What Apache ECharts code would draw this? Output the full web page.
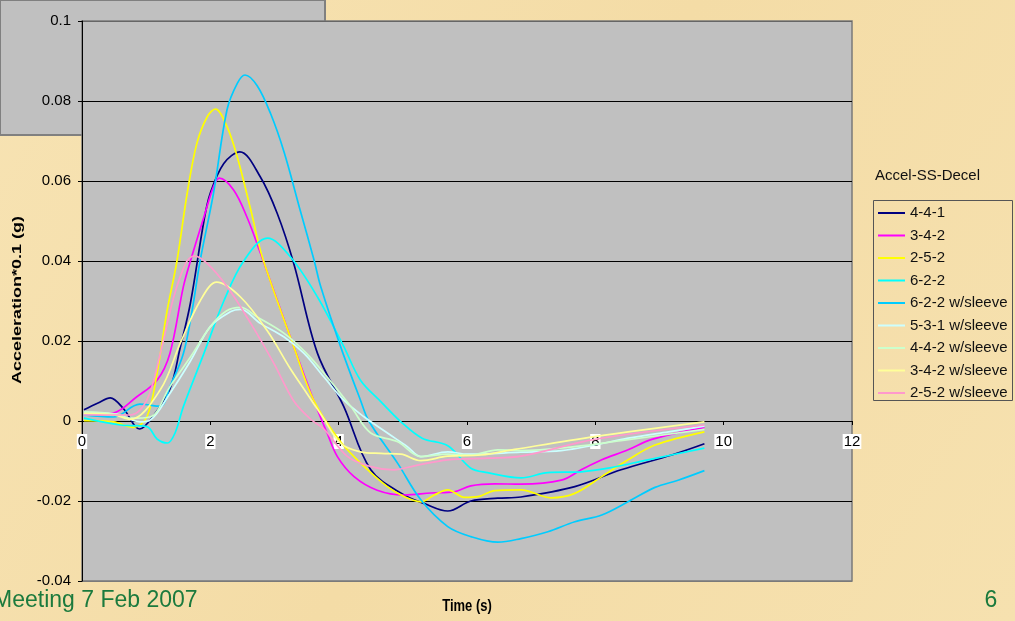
<!DOCTYPE html>
<html>
<head>
<meta charset="utf-8">
<script src="https://cdn.jsdelivr.net/npm/echarts@6/dist/echarts.min.js"></script>
<style>
html,body{margin:0;padding:0;width:1015px;height:621px;overflow:hidden;background:#F5DFAA;}
#c{width:1015px;height:621px;}
</style>
</head>
<body>
<div id="c"></div>
<script>
// ---- data (time s, acceleration*0.1 g) ----
const seriesNames = ['4-4-1','3-4-2','2-5-2','6-2-2','6-2-2 w/sleeve','5-3-1 w/sleeve','4-4-2 w/sleeve','3-4-2 w/sleeve','2-5-2 w/sleeve'];
const yTickLabels = ['-0.04','-0.02','0','0.02','0.04','0.06','0.08','0.1'];
const xTickLabels = ['0','2','4','6','8','10','12'];

const s441 = [[0.03,0.0028],[0.25,0.0045],[0.44,0.0058],[0.65,0.003],[0.9,-0.002],[1.1,0.001],[1.37,0.008],[1.53,0.0183],[1.69,0.0295],[1.9,0.050],[2.0,0.057],[2.21,0.0644],[2.46,0.0673],[2.78,0.061],[3.04,0.052],[3.3,0.0394],[3.67,0.0169],[4.08,0.0036],[4.5,-0.0122],[5.02,-0.0185],[5.33,-0.0206],[5.7,-0.0225],[6.06,-0.020],[6.48,-0.0193],[6.84,-0.019],[7.68,-0.0164],[8.4,-0.0122],[9.19,-0.0085],[9.7,-0.0057]];
const s342 = [[0.03,0.0015],[0.49,0.002],[0.85,0.006],[1.17,0.0102],[1.37,0.0169],[1.58,0.0336],[1.69,0.040],[1.9,0.051],[2.05,0.0586],[2.14,0.0607],[2.36,0.0578],[2.57,0.051],[2.78,0.042],[3.3,0.0186],[3.61,0.0052],[3.82,-0.003],[3.98,-0.0089],[4.24,-0.0139],[4.6,-0.0173],[5.02,-0.0185],[5.44,-0.018],[5.8,-0.0177],[6.06,-0.0162],[6.43,-0.0157],[6.84,-0.0158],[7.47,-0.0148],[7.78,-0.0122],[8.1,-0.0097],[8.51,-0.0072],[8.88,-0.0046],[9.7,-0.0016]];
const s252 = [[0.03,0.0001],[0.49,-0.0002],[0.8,-0.0016],[1.01,0.001],[1.17,0.012],[1.32,0.027],[1.48,0.040],[1.64,0.057],[1.79,0.0694],[1.95,0.076],[2.08,0.078],[2.26,0.0736],[2.42,0.066],[2.63,0.0528],[2.81,0.041],[3.3,0.0186],[3.61,0.0052],[4.03,-0.0052],[4.4,-0.0114],[4.76,-0.0164],[5.02,-0.0189],[5.28,-0.0202],[5.49,-0.0185],[5.7,-0.0172],[5.96,-0.0191],[6.17,-0.0189],[6.43,-0.0174],[6.84,-0.0172],[7.31,-0.0192],[7.68,-0.0181],[8.1,-0.0139],[8.51,-0.0097],[8.93,-0.006],[9.7,-0.0027]];
const s622 = [[0.03,0.0007],[0.6,-0.001],[1.01,-0.0014],[1.17,-0.0045],[1.33,-0.0055],[1.45,-0.003],[1.58,0.0036],[1.9,0.0169],[2.21,0.030],[2.52,0.040],[2.89,0.0457],[3.25,0.041],[3.67,0.031],[4.08,0.0186],[4.34,0.0102],[4.66,0.0048],[4.97,-0.0002],[5.3,-0.0043],[5.7,-0.0062],[6.06,-0.0118],[6.32,-0.0129],[6.84,-0.0142],[7.26,-0.0129],[7.78,-0.0127],[8.2,-0.0118],[8.82,-0.0097],[9.7,-0.0068]];
const s622s = [[0.03,0.0015],[0.49,0.001],[0.9,0.0042],[1.22,0.0037],[1.37,0.0086],[1.58,0.0169],[1.72,0.028],[1.84,0.040],[2.05,0.057],[2.26,0.0778],[2.42,0.0844],[2.54,0.0865],[2.73,0.0838],[2.94,0.0768],[3.15,0.0672],[3.4,0.0527],[3.62,0.040],[3.72,0.0336],[4.03,0.0186],[4.34,0.0052],[4.47,0.0],[4.92,-0.0106],[5.28,-0.0197],[5.7,-0.0264],[6.06,-0.0289],[6.48,-0.0303],[6.84,-0.0294],[7.26,-0.0277],[7.68,-0.0252],[8.1,-0.0235],[8.51,-0.0202],[8.93,-0.0166],[9.29,-0.0148],[9.7,-0.0124]];
const s531s = [[0.03,0.0019],[0.5,0.0018],[0.9,-0.0002],[1.06,0.0002],[1.37,0.0069],[1.69,0.015],[2.0,0.0236],[2.31,0.0273],[2.47,0.0279],[2.78,0.0244],[3.15,0.021],[3.46,0.0169],[3.77,0.011],[4.08,0.0052],[4.4,0.001],[4.76,-0.003],[5.07,-0.0064],[5.28,-0.0089],[5.7,-0.0077],[6.01,-0.0083],[6.84,-0.0078],[7.47,-0.0074],[7.99,-0.006],[8.51,-0.0043],[9.14,-0.0027],[9.7,-0.0013]];
const s442s = [[0.03,0.0023],[0.5,0.0018],[0.75,0.0007],[1.06,0.001],[1.37,0.0086],[1.69,0.016],[2.0,0.0236],[2.25,0.0275],[2.47,0.0284],[2.73,0.026],[3.15,0.0219],[3.5,0.0169],[3.82,0.011],[4.19,0.0036],[4.5,-0.003],[4.92,-0.0052],[5.28,-0.0089],[5.7,-0.0083],[6.06,-0.0085],[6.48,-0.0072],[6.84,-0.0074],[7.68,-0.0064],[8.4,-0.0049],[9.7,-0.0021]];
const s342s = [[0.03,0.0019],[0.5,0.0015],[0.75,0.0004],[1.22,0.0078],[1.53,0.0194],[1.84,0.030],[2.1,0.0347],[2.47,0.031],[2.89,0.0225],[3.25,0.013],[3.5,0.007],[3.75,0.001],[4.03,-0.0056],[4.34,-0.0077],[4.66,-0.0081],[4.97,-0.0083],[5.28,-0.0099],[5.7,-0.0088],[6.22,-0.0085],[6.74,-0.0071],[7.99,-0.0039],[9.7,-0.0002]];
const s252s = [[0.03,0.0015],[0.75,0.0015],[1.01,0.0052],[1.22,0.0169],[1.43,0.031],[1.62,0.0395],[1.75,0.0413],[1.95,0.0394],[2.26,0.0336],[2.63,0.0244],[2.99,0.0144],[3.3,0.005],[3.56,0.0005],[3.77,-0.002],[4.14,-0.0089],[4.5,-0.0114],[4.86,-0.0122],[5.18,-0.0112],[5.7,-0.0097],[6.32,-0.0093],[6.84,-0.0088],[7.99,-0.0046],[9.7,-0.001]];

const seriesData = [s441, s342, s252, s622, s622s, s531s, s442s, s342s, s252s];
const seriesColors = ['#000080','#FF00FF','#FFFF00','#00FFFF','#00CCFF','#CCFFFF','#CCFFCC','#FFFF99','#FF99CC'];

const FONT = "Arial, 'Liberation Sans', sans-serif";
const chart = echarts.init(document.getElementById('c'), null, {renderer:'canvas'});

const option = {
  animation: false,
  backgroundColor: {
    type:'linear', x:0, y:0, x2:1, y2:1,
    colorStops:[{offset:0,color:'#F7E3B3'},{offset:0.5,color:'#F4DCA6'},{offset:1,color:'#F6E1AF'}]
  },
  textStyle: {fontFamily: FONT},
  grid: {
    left: 82, top: 21, width: 770, height: 560,
    show: true, backgroundColor: '#C0C0C0',
    borderColor: '#7a7a7a', borderWidth: 1.5
  },
  xAxis: {
    type: 'value', min: 0, max: 12, interval: 2,
    position: 'bottom', offset: -160,
    axisLine: {show: true, onZero: false, lineStyle: {color: '#000', width: 1}},
    axisTick: {show: true, inside: false, length: 4, lineStyle: {color: '#000'}},
    axisLabel: {
      fontSize: 15, color: '#000', fontFamily: FONT, margin: 13,
      backgroundColor: '#fff', padding: [0, 1, 0, 1],
      formatter: function (v) { const i = Math.round(v / 2); return xTickLabels[i] !== undefined ? xTickLabels[i] : ''; }
    },
    splitLine: {show: false}
  },
  yAxis: {
    type: 'value', min: -0.04, max: 0.1, interval: 0.02,
    axisLine: {show: true, onZero: false, lineStyle: {color: '#000', width: 1}},
    axisTick: {show: true, inside: false, length: 4, lineStyle: {color: '#000'}},
    axisLabel: {
      fontSize: 15, color: '#000', fontFamily: FONT, margin: 11,
      formatter: function (v) { const i = Math.round((v + 0.04) / 0.02); return yTickLabels[i] !== undefined ? yTickLabels[i] : ''; }
    },
    splitLine: {show: true, lineStyle: {color: ['#7a7a7a','#000','#000','#000','#000','#000','#000','#666'], width: 1}}
  },
  legend: {
    orient: 'vertical', left: 878, top: 205.5, padding: 0,
    icon: 'rect', itemWidth: 27, itemHeight: 2, itemGap: 7.5,
    textStyle: {fontSize: 15, color: '#111', fontFamily: FONT},
    data: seriesNames
  },
  graphic: [
    {type:'rect', z:-10, shape:{x:0,y:0,width:325,height:135}, style:{fill:'#C0C0C0', stroke:'#808080', lineWidth:2}},
    {type:'rect', shape:{x:873.5,y:200.5,width:139,height:200}, style:{fill:'rgba(0,0,0,0)', stroke:'#555', lineWidth:1}},
    {type:'text', x:875, y:176, style:{text:'Accel-SS-Decel', fill:'#111', font:'15px ' + FONT, textAlign:'left', textVerticalAlign:'middle'}},
    {type:'text', x:467, y:607, scaleY: 1.2, style:{text:'Time (s)', fill:'#000', font:'bold 13px ' + FONT, textAlign:'center', textVerticalAlign:'middle'}},
    {type:'text', x:18, y:300, rotation: Math.PI/2, scaleX: 1.5, style:{text:'Acceleration*0.1 (g)', fill:'#000', font:'bold 12px ' + FONT, textAlign:'center', textVerticalAlign:'middle'}},
    {type:'text', x:-7, y:601, style:{text:'Meeting 7 Feb 2007', fill:'#1b7a3d', font:'23px ' + FONT, textAlign:'left', textVerticalAlign:'middle'}},
    {type:'text', x:991, y:601, style:{text:'6', fill:'#1b7a3d', font:'23px ' + FONT, textAlign:'center', textVerticalAlign:'middle'}}
  ],
  series: seriesNames.map(function (name, i) {
    return {
      name: name, type: 'line', data: seriesData[i],
      smooth: 0.35, symbol: 'none', showSymbol: false,
      lineStyle: {color: seriesColors[i], width: 1.7},
      itemStyle: {color: seriesColors[i]},
      z: 3 + i
    };
  })
};
chart.setOption(option);
</script>
</body>
</html>
